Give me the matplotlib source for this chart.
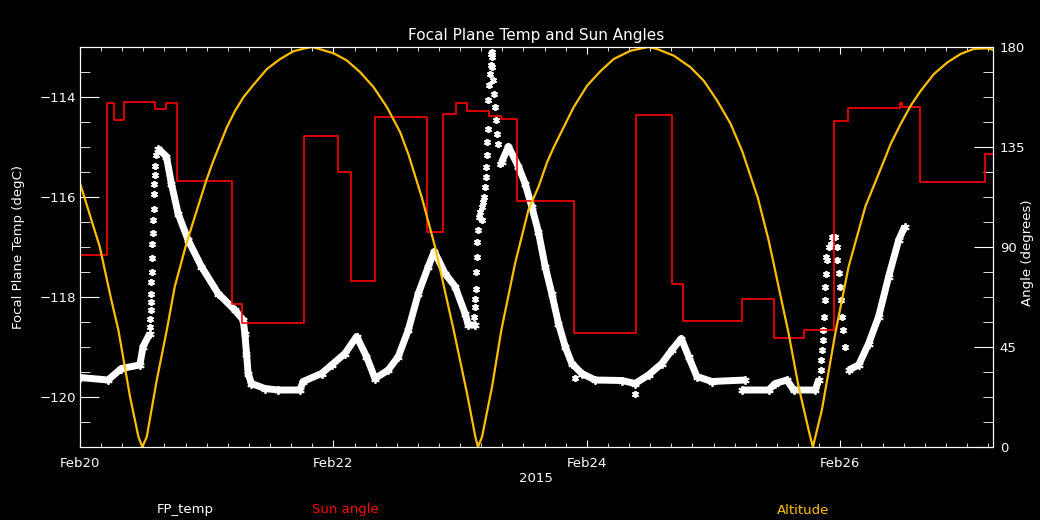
import numpy as np
import matplotlib
matplotlib.use('Agg')
import matplotlib.pyplot as plt
import matplotlib.dates as mdates
from matplotlib.ticker import MultipleLocator, FixedLocator
from datetime import datetime

nan = np.nan

# days since 2015-02-20 00:00
# FP_temp, dense part (drawn as a band), NaN = break
fp_day = [0.000, 0.221, 0.326, 0.472, 0.498, 0.551, nan,
          0.616, 0.682, 0.721, 0.774, 0.853, 0.958, 1.090, 1.222, 1.288, 1.301,
          1.314, 1.327, 1.353, 1.459, 1.564, 1.735, 1.761, 1.906, 1.985, 2.091,
          2.183, 2.261, 2.328, 2.433, 2.512, 2.591, 2.670, 2.749, 2.796, 2.881,
          2.960, 3.039, 3.065, 3.118, nan,
          3.328, 3.381, 3.460, 3.513, 3.565, 3.618, 3.671, 3.723, 3.776, 3.829,
          3.881, 3.960, 4.066, 4.276, 4.381, 4.487, 4.592, 4.671, 4.745, 4.803,
          4.868, 4.987, 5.250, nan,
          5.223, 5.434, 5.487, 5.579, 5.632, 5.803, 5.829, nan,
          6.066, 6.145, 6.224, 6.303, 6.382, 6.461, 6.509]
fp_temp = [-119.61, -119.66, -119.43, -119.36, -118.99, -118.73, nan,
           -115.03, -115.19, -115.73, -116.33, -116.86, -117.39, -117.93, -118.26, -118.46, -118.73,
           -119.13, -119.53, -119.73, -119.83, -119.86, -119.86, -119.69, -119.53, -119.36, -119.13,
           -118.79, -119.19, -119.63, -119.46, -119.19, -118.66, -117.93, -117.39, -117.09, -117.53,
           -117.79, -118.33, -118.56, -118.56, nan,
           -115.30, -114.99, -115.39, -115.73, -116.19, -116.70, -117.39, -117.93, -118.53, -118.99,
           -119.33, -119.53, -119.66, -119.67, -119.73, -119.56, -119.33, -119.06, -118.83, -119.19,
           -119.59, -119.69, -119.66, nan,
           -119.86, -119.86, -119.73, -119.66, -119.86, -119.86, -119.66, nan,
           -119.46, -119.36, -118.93, -118.39, -117.59, -116.86, -116.59]

# FP_temp, single samples during fast changes
fp_pt_day = [0.553, 0.555, 0.557, 0.559, 0.561, 0.563, 0.566, 0.569, 0.572, 0.575,
             0.578, 0.581, 0.584, 0.587, 0.590, 0.593, 0.597,
             3.112, 3.116, 3.120, 3.122, 3.128, 3.132, 3.136, 3.140,
             3.148, 3.160, 3.172, 3.180, 3.176,
             3.189, 3.197, 3.202, 3.205, 3.210, 3.215, 3.218, 3.223, 3.229, 3.236,
             3.244, 3.244, 3.248, 3.252,
             3.249, 3.260, 3.270, 3.278, 3.286, 3.294, 3.302, 3.318,
             5.845, 5.851, 5.856, 5.861, 5.867, 5.871, 5.877, 5.882, 5.887, 5.893,
             5.908, 5.935, 5.962, 5.974, 5.889, 5.923,
             5.974, 5.987, 5.995, 6.003, 6.011, 6.019, 6.035,
             4.381, 3.905]
fp_pt_temp = [-118.59, -118.43, -118.26, -118.09, -117.93, -117.69, -117.49, -117.21, -116.94, -116.71,
              -116.46, -116.23, -115.94, -115.74, -115.56, -115.38, -115.16,
              -118.39, -118.19, -118.03, -117.83, -117.49, -117.19, -116.89, -116.65,
              -116.40, -116.30, -116.20, -116.10, -116.45,
              -115.99, -115.79, -115.59, -115.39, -115.16, -114.89, -114.63, -114.06, -113.76, -113.53,
              -113.36, -113.13, -113.10, -113.20,
              -113.39, -113.66, -113.93, -114.19, -114.46, -114.73, -114.93, -115.33,
              -119.46, -119.26, -119.06, -118.86, -118.66, -118.39, -118.06, -117.79, -117.53, -117.26,
              -116.99, -116.79, -116.79, -116.99, -117.19, -116.93,
              -117.26, -117.52, -117.80, -118.06, -118.40, -118.66, -119.00,
              -119.93, -119.62]

# Sun angle (step)
sun_day = [0.000, 0.216, 0.269, 0.348, 0.591, 0.680, 0.764, 1.196, 1.281, 1.765,
           2.040, 2.140, 2.330, 2.741, 2.862, 2.967, 3.051, 3.225, 3.326, 3.449,
           3.897, 4.385, 4.674, 4.759, 5.228, 5.478, 5.715, 5.953, 6.058, 6.474,
           6.490, 6.630, 7.146, 7.209]
sun_angle = [86.4, 154.6, 147.0, 155.4, 152.0, 154.6, 119.6, 64.2, 56.0, 139.8,
             123.8, 74.6, 148.7, 96.6, 150.0, 154.6, 151.2, 149.0, 147.4, 110.7,
             51.4, 149.2, 73.2, 56.7, 66.4, 49.2, 52.6, 146.7, 152.4, 154.6,
             153.1, 119.3, 131.7, 131.7]

# Altitude
alt_day = [0.000, 0.156, 0.247, 0.303, 0.395, 0.461, 0.492, 0.527, 0.606, 0.685,
           0.748, 0.840, 0.906, 0.998, 1.048, 1.106, 1.159, 1.224, 1.290, 1.369,
           1.475, 1.580, 1.685, 1.791, 1.833, 1.870, 2.001, 2.107, 2.212, 2.317,
           2.423, 2.528, 2.593, 2.696, 2.802, 2.949, 3.054, 3.120, 3.141, 3.173,
           3.252, 3.325, 3.434, 3.539, 3.618, 3.686, 3.739, 3.817, 3.896, 4.002,
           4.107, 4.212, 4.344, 4.449, 4.486, 4.555, 4.686, 4.818, 4.923, 5.029,
           5.134, 5.227, 5.350, 5.434, 5.474, 5.513, 5.592, 5.671, 5.750, 5.784,
           5.855, 5.961, 6.066, 6.198, 6.340, 6.398, 6.477, 6.556, 6.635, 6.740,
           6.846, 6.951, 7.056, 7.162, 7.209]
alt_angle = [118.7, 90.1, 66.2, 52.6, 22.6, 4.6, 0.0, 4.6, 30.2, 52.6,
             72.2, 91.6, 103.6, 120.2, 128.1, 136.4, 143.9, 151.3, 157.4, 163.0,
             170.1, 174.6, 178.1, 179.6, 180.0, 179.4, 177.2, 173.9, 168.6, 161.9,
             152.9, 141.5, 131.5, 112.6, 90.1, 52.6, 24.2, 4.6, 0.0, 4.6,
             27.1, 52.6, 82.7, 106.7, 117.0, 128.1, 134.9, 143.9, 152.9, 162.6,
             169.1, 174.6, 178.3, 179.6, 180.0, 179.1, 176.1, 170.9, 164.8, 155.8,
             145.5, 133.0, 112.0, 93.2, 82.7, 72.2, 51.2, 27.2, 7.7, 0.0,
             16.7, 51.2, 81.2, 108.2, 128.1, 136.4, 145.4, 153.6, 160.3, 167.9,
             173.1, 176.9, 179.2, 179.4, 178.7]

base = mdates.date2num(datetime(2015, 2, 20))
ORANGE = '#ffbf00'

fig = plt.figure(figsize=(10.4, 5.2), dpi=100, facecolor='black')
ax = fig.add_axes([80 / 1040, 1 - 447 / 520, 912.7 / 1040, 400 / 520])
ax.set_facecolor('black')
ax2 = ax.twinx()

# temperature on left axis
ax.plot(base + np.array(fp_day), fp_temp, color='white', lw=5, solid_capstyle='butt', zorder=2)
ax.plot(base + np.array(fp_day), fp_temp, ls='none', marker=(6, 2, 0), ms=6, mew=1.3,
        color='white', zorder=2)
ax.plot(base + np.array(fp_pt_day), fp_pt_temp, ls='none', marker=(6, 2, 0), ms=5, mew=1.3,
        color='white', zorder=2)

# angles on right axis
ax2.plot(base + np.array(sun_day), sun_angle, color='red', lw=1.2, drawstyle='steps-post')
ax2.plot(base + np.array(alt_day), alt_angle, color=ORANGE, lw=1.6, solid_joinstyle='round')

ax.set_xlim(base, base + 7.203)
ax.set_ylim(-121, -113)
ax2.set_ylim(0, 180)

ax.xaxis.set_major_locator(FixedLocator(base + np.array([0, 2, 4, 6])))
ax.xaxis.set_minor_locator(FixedLocator(base + np.arange(0, 7.21, 1 / 6)))
ax.xaxis.set_major_formatter(mdates.DateFormatter('%b%d'))
ax.yaxis.set_major_locator(MultipleLocator(2))
ax.yaxis.set_minor_locator(MultipleLocator(0.5))
ax2.yaxis.set_major_locator(MultipleLocator(45))
ax2.yaxis.set_minor_locator(MultipleLocator(11.25))

for a in (ax, ax2):
    for s in a.spines.values():
        s.set_color('white')
ax.tick_params(axis='x', which='both', direction='in', top=True, colors='white', labelsize=9.5, pad=7)
ax.tick_params(axis='x', which='major', length=5)
ax.tick_params(axis='x', which='minor', length=3.2)
ax.tick_params(axis='y', which='both', direction='in', right=False, colors='white', labelsize=9.5, pad=3)
ax.tick_params(axis='y', which='major', length=13.5)
ax.tick_params(axis='y', which='minor', length=7)
ax2.tick_params(axis='y', which='both', direction='in', colors='white', labelsize=9.5, pad=5)
ax2.tick_params(axis='y', which='major', length=13.5)
ax2.tick_params(axis='y', which='minor', length=7)

ax.set_title('Focal Plane Temp and Sun Angles', color='white', fontsize=11, pad=5)
ax.set_xlabel('2015', color='white', fontsize=9.5, labelpad=2)
ax.set_ylabel('Focal Plane Temp (degC)', color='white', fontsize=9.5)
ax.yaxis.set_label_coords(-0.060, 0.5)
ax2.set_ylabel('Angle (degrees)', color='white', fontsize=9.5)
ax2.yaxis.set_label_coords(1.031, 0.485)

fig.text(185 / 1040, 1 - 510 / 520, 'FP_temp', color='white', fontsize=9.5, ha='center', va='center')
fig.text(345 / 1040, 1 - 510 / 520, 'Sun angle', color='red', fontsize=9.5, ha='center', va='center')
fig.text(803 / 1040, 1 - 510 / 520, 'Altitude', color=ORANGE, fontsize=9.5, ha='center', va='center')

fig.savefig('out.png', dpi=100, facecolor='black')
